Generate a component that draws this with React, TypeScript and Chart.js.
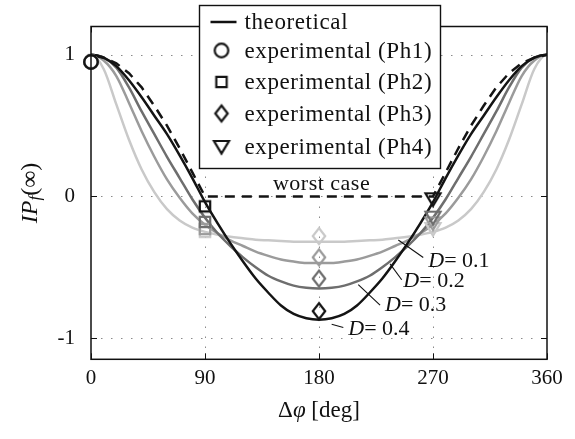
import React, { useEffect, useRef } from "react";
import { Chart, registerables } from "chart.js";

Chart.register(...registerables);

// ---------- data ----------
const ANGLES = [-20, -10, 0, 10, 20, 30, 40, 50, 60, 70, 80, 90, 100, 110, 120, 130, 140, 150, 160, 170, 180, 190, 200, 210, 220, 230, 240, 250, 260, 270, 280, 290, 300, 310, 320, 330, 340, 350, 360, 370, 380];

const THEO_D01 = [0.65, 0.9, 1.0, 0.9, 0.65, 0.4, 0.19, 0.03, -0.09, -0.17, -0.22, -0.25, -0.27, -0.285, -0.295, -0.305, -0.31, -0.315, -0.32, -0.32, -0.32, -0.32, -0.32, -0.315, -0.31, -0.305, -0.295, -0.285, -0.27, -0.25, -0.22, -0.17, -0.09, 0.03, 0.19, 0.4, 0.65, 0.9, 1.0, 0.9, 0.65];
const THEO_D02 = [0.85, 0.96, 1.0, 0.96, 0.85, 0.66, 0.46, 0.28, 0.12, -0.01, -0.12, -0.2, -0.26, -0.31, -0.35, -0.39, -0.42, -0.445, -0.46, -0.47, -0.47, -0.47, -0.46, -0.445, -0.42, -0.39, -0.35, -0.31, -0.26, -0.2, -0.12, -0.01, 0.12, 0.28, 0.46, 0.66, 0.85, 0.96, 1.0, 0.96, 0.85];
const THEO_D03 = [0.91, 0.98, 1.0, 0.98, 0.91, 0.77, 0.6, 0.44, 0.28, 0.13, -0.02, -0.15, -0.26, -0.35, -0.43, -0.5, -0.56, -0.6, -0.63, -0.645, -0.65, -0.645, -0.63, -0.6, -0.56, -0.5, -0.43, -0.35, -0.26, -0.15, -0.02, 0.13, 0.28, 0.44, 0.6, 0.77, 0.91, 0.98, 1.0, 0.98, 0.91];
const THEO_D04 = [0.92, 0.98, 1.0, 0.98, 0.92, 0.82, 0.7, 0.57, 0.44, 0.29, 0.13, -0.04, -0.19, -0.33, -0.46, -0.58, -0.68, -0.77, -0.83, -0.86, -0.87, -0.86, -0.83, -0.77, -0.68, -0.58, -0.46, -0.33, -0.19, -0.04, 0.13, 0.29, 0.44, 0.57, 0.7, 0.82, 0.92, 0.98, 1.0, 0.98, 0.92];

const WORST_X = [-20, -10, 0, 10, 20, 30, 40, 50, 60, 70, 80, 90, 270, 280, 290, 300, 310, 320, 330, 340, 350, 360, 370, 380];
const WORST_Y = [0.94, 0.98, 1.0, 0.98, 0.94, 0.87, 0.77, 0.64, 0.5, 0.34, 0.17, 0.0, 0.0, 0.17, 0.34, 0.5, 0.64, 0.77, 0.87, 0.94, 0.98, 1.0, 0.98, 0.94];

// experimental points: Ph1..Ph4 at these phase differences
const EXP_X = [0, 90, 180, 270];
const EXP_D01 = [0.95, -0.25, -0.28, -0.23];
const EXP_D02 = [0.95, -0.23, -0.43, -0.19];
const EXP_D03 = [0.95, -0.18, -0.58, -0.15];
const EXP_D04 = [0.95, -0.07, -0.81, -0.02];

const X_TICKS = [0, 90, 180, 270, 360];
const Y_TICKS = [-1, 0, 1];

const D_VALUES = ["0.1", "0.2", "0.3", "0.4"];
// leader lines (data coords) and label anchors
const LEAD_X0 = [242.6, 236.1, 211.0, 190.0];
const LEAD_Y0 = [-0.308, -0.476, -0.622, -0.902];
const LEAD_X1 = [262.3, 245.3, 228.2, 199.2];
const LEAD_Y1 = [-0.431, -0.588, -0.767, -0.925];
const LABEL_X = [266.3, 246.6, 232.1, 203.1];
const LABEL_Y = [-0.454, -0.599, -0.767, -0.935];
const WORST_LABEL = "worst case";
const WORST_LABEL_X = 182;
const WORST_LABEL_Y = 0.085;

const LEGEND_LABELS = ["theoretical", "experimental (Ph1)", "experimental (Ph2)", "experimental (Ph3)", "experimental (Ph4)"];
const SHAPES = ["circle", "square", "diamond", "triangle"];

const COLORS = ["#c9c9c9", "#9b9b9b", "#6e6e6e", "#141414"];
const SERIF = "'Liberation Serif', 'DejaVu Serif', serif";

function makeMarker(shape: string, color: string): HTMLCanvasElement {
  const c = document.createElement("canvas");
  c.width = 24;
  c.height = 24;
  const g = c.getContext("2d")!;
  g.strokeStyle = color;
  g.lineWidth = 2.2;
  const cx = 12, cy = 12;
  g.beginPath();
  if (shape === "circle") g.arc(cx, cy, 6.8, 0, Math.PI * 2);
  else if (shape === "square") g.rect(cx - 5.2, cy - 5.2, 10.4, 10.4);
  else if (shape === "diamond") {
    g.moveTo(cx, cy - 8);
    g.lineTo(cx + 6.2, cy);
    g.lineTo(cx, cy + 8);
    g.lineTo(cx - 6.2, cy);
    g.closePath();
  } else {
    g.moveTo(cx - 7.5, cy - 6);
    g.lineTo(cx + 7.5, cy - 6);
    g.lineTo(cx, cy + 6.5);
    g.closePath();
  }
  g.stroke();
  return c;
}

type Part = [string, string, number?];

function richWidth(ctx: CanvasRenderingContext2D, parts: Part[]) {
  let w = 0;
  for (const [t, f] of parts) {
    ctx.font = f;
    w += ctx.measureText(t).width;
  }
  return w;
}

function drawRich(ctx: CanvasRenderingContext2D, parts: Part[], x: number, y: number, align: "left" | "center", spacing = 0) {
  const c: any = ctx;
  c.letterSpacing = spacing + "px";
  let cx = align === "center" ? x - richWidth(ctx, parts) / 2 : x;
  ctx.textAlign = "left";
  ctx.textBaseline = "middle";
  for (const [t, f, dy] of parts) {
    ctx.font = f;
    ctx.fillText(t, cx, y + (dy || 0));
    cx += ctx.measureText(t).width;
  }
  c.letterSpacing = "0px";
}

function pts(xs: number[], ys: number[]) {
  return xs.map((x, i) => ({ x, y: ys[i] }));
}

export default function App() {
  const ref = useRef<HTMLCanvasElement>(null);

  useEffect(() => {
    document.body.style.margin = "0";
    const canvas = ref.current!;
    const markerSets = COLORS.map((c) => SHAPES.map((s) => makeMarker(s, c)));
    const legendMarkers = SHAPES.map((s) => makeMarker(s, "#141414"));

    const decor = {
      id: "decor",
      beforeDatasetsDraw(chart: any) {
        const { ctx, chartArea: a, scales } = chart;
        const x = scales.x, y = scales.y;
        ctx.save();
        ctx.strokeStyle = "#8a8a8a";
        ctx.lineWidth = 1;
        ctx.setLineDash([1.5, 8.5]);
        X_TICKS.slice(1, -1).forEach((v) => {
          const px = Math.round(x.getPixelForValue(v)) + 0.5;
          ctx.beginPath();
          ctx.moveTo(px, a.top);
          ctx.lineTo(px, a.bottom);
          ctx.stroke();
        });
        Y_TICKS.forEach((v) => {
          const py = Math.round(y.getPixelForValue(v)) + 0.5;
          ctx.beginPath();
          ctx.moveTo(a.left, py);
          ctx.lineTo(a.right, py);
          ctx.stroke();
        });
        ctx.restore();
      },
      afterDatasetsDraw(chart: any) {
        const { ctx, chartArea: a, scales } = chart;
        const x = scales.x, y = scales.y;
        ctx.save();
        ctx.strokeStyle = "#111";
        ctx.lineWidth = 1.1;
        ctx.fillStyle = "#111";
        D_VALUES.forEach((d, i) => {
          ctx.beginPath();
          ctx.moveTo(x.getPixelForValue(LEAD_X0[i]), y.getPixelForValue(LEAD_Y0[i]));
          ctx.lineTo(x.getPixelForValue(LEAD_X1[i]), y.getPixelForValue(LEAD_Y1[i]));
          ctx.stroke();
          drawRich(ctx, [["D", `italic 22px ${SERIF}`], ["= " + d, `22px ${SERIF}`]], x.getPixelForValue(LABEL_X[i]), y.getPixelForValue(LABEL_Y[i]), "left");
        });
        drawRich(ctx, [[WORST_LABEL, `22px ${SERIF}`]], x.getPixelForValue(WORST_LABEL_X), y.getPixelForValue(WORST_LABEL_Y), "center", 0.5);
        ctx.setLineDash([]);
        ctx.strokeStyle = "#111";
        ctx.lineWidth = 1.5;
        ctx.strokeRect(a.left, a.top, a.right - a.left, a.bottom - a.top);
        ctx.lineWidth = 1;
        const tl = 6;
        X_TICKS.forEach((v) => {
          const px = Math.round(x.getPixelForValue(v)) + 0.5;
          ctx.beginPath();
          ctx.moveTo(px, a.bottom);
          ctx.lineTo(px, a.bottom - tl);
          ctx.moveTo(px, a.top);
          ctx.lineTo(px, a.top + tl);
          ctx.stroke();
        });
        Y_TICKS.forEach((v) => {
          const py = Math.round(y.getPixelForValue(v)) + 0.5;
          ctx.beginPath();
          ctx.moveTo(a.left, py);
          ctx.lineTo(a.left + tl, py);
          ctx.moveTo(a.right, py);
          ctx.lineTo(a.right - tl, py);
          ctx.stroke();
        });
        ctx.restore();
      },
      afterDraw(chart: any) {
        const { ctx, chartArea: a } = chart;
        ctx.save();
        const lw = 241, lh = 163;
        const lx = Math.round((a.left + a.right) / 2 - lw / 2) + 0.5;
        const ly = 5.5;
        ctx.fillStyle = "#fff";
        ctx.fillRect(lx, ly, lw, lh);
        ctx.strokeStyle = "#111";
        ctx.lineWidth = 1.4;
        ctx.strokeRect(lx, ly, lw, lh);
        const rows = [16.5, 45, 76.5, 108, 141.5];
        ctx.fillStyle = "#111";
        LEGEND_LABELS.forEach((lab, i) => {
          const ry = ly + rows[i];
          if (i === 0) {
            ctx.lineWidth = 2.5;
            ctx.beginPath();
            ctx.moveTo(lx + 11, ry);
            ctx.lineTo(lx + 37, ry);
            ctx.stroke();
          } else {
            const m = legendMarkers[i - 1];
            ctx.drawImage(m, lx + 22 - m.width / 2, ry - m.height / 2);
          }
          drawRich(ctx, [[lab, `23px ${SERIF}`]], lx + 45, ry + 1, "left", 0.6);
        });
        ctx.save();
        ctx.translate(31, (a.top + a.bottom) / 2);
        ctx.rotate(-Math.PI / 2);
        drawRich(ctx, [["IP", `italic 24px ${SERIF}`], ["f", `italic 17px ${SERIF}`, 5], ["(∞)", `24px ${SERIF}`]], 0, 0, "center");
        ctx.restore();
        drawRich(ctx, [["Δ", `23px ${SERIF}`], ["φ", `italic 23px ${SERIF}`], [" [deg]", `23px ${SERIF}`]], (a.left + a.right) / 2, 411, "center");
        ctx.restore();
      },
    };

    const theo = [THEO_D01, THEO_D02, THEO_D03, THEO_D04];
    const exp = [EXP_D01, EXP_D02, EXP_D03, EXP_D04];

    const datasets: any[] = [];
    exp.forEach((vals, i) => {
      datasets.push({
        label: "exp D" + D_VALUES[i],
        data: pts(EXP_X, vals),
        showLine: false,
        pointStyle: markerSets[i],
        pointRadius: 7,
        pointHoverRadius: 7,
        clip: false,
        order: 3 - i,
      });
    });
    datasets.push({
      label: "worst case",
      data: pts(WORST_X, WORST_Y),
      borderColor: "#141414",
      borderWidth: 2.5,
      borderDash: [10, 7],
      pointRadius: 0,
      tension: 0,
      fill: false,
      order: 4,
    });
    theo.forEach((vals, i) => {
      datasets.push({
        label: "theoretical D" + D_VALUES[i],
        data: pts(ANGLES, vals),
        borderColor: COLORS[i],
        borderWidth: 2.5,
        pointRadius: 0,
        cubicInterpolationMode: "monotone",
        fill: false,
        order: 8 - i,
      });
    });

    const tickFont = { family: "Liberation Serif", size: 21, lineHeight: 1 };

    const chart = new Chart(canvas, {
      type: "line",
      data: { datasets },
      options: {
        animation: false,
        responsive: false,
        maintainAspectRatio: false,
        devicePixelRatio: 1,
        layout: { padding: { left: 0, right: 28, top: 11.7, bottom: 0 } },
        plugins: { legend: { display: false }, tooltip: { enabled: false } },
        events: [],
        scales: {
          x: {
            type: "linear",
            min: 0,
            max: 360,
            afterBuildTicks: (s: any) => {
              s.ticks = X_TICKS.map((v) => ({ value: v }));
            },
            afterFit: (s: any) => {
              s.height = 79.7;
            },
            grid: { display: false, drawTicks: false },
            border: { display: false },
            ticks: { font: tickFont, color: "#111", padding: 9, maxRotation: 0, autoSkip: false },
          },
          y: {
            type: "linear",
            min: -1.15,
            max: 1.2,
            afterBuildTicks: (s: any) => {
              s.ticks = Y_TICKS.map((v) => ({ value: v }));
            },
            afterFit: (s: any) => {
              s.width = 91;
            },
            grid: { display: false, drawTicks: false },
            border: { display: false },
            ticks: { font: tickFont, color: "#111", padding: 16, autoSkip: false, callback: (v: any) => String(v) },
          },
        },
      } as any,
      plugins: [decor],
    });
    return () => chart.destroy();
  }, []);

  return <canvas ref={ref} width={575} height={439} style={{ display: "block", width: 575, height: 439 }} />;
}
